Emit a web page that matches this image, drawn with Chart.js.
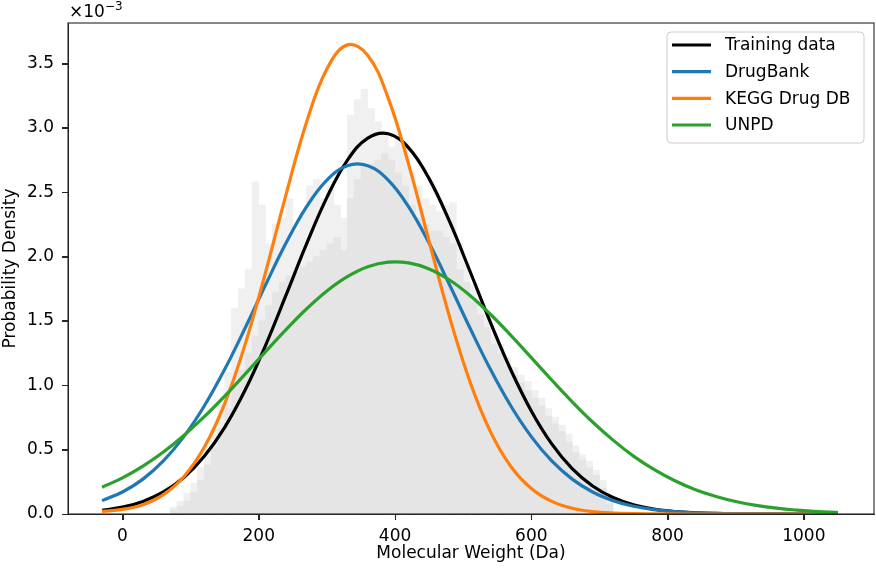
<!DOCTYPE html>
<html>
<head>
<meta charset="utf-8">
<script src="https://cdn.jsdelivr.net/npm/chart.js@4"></script>
<style>
  html, body { margin: 0; padding: 0; background: #ffffff; }
  #wrap { width: 876px; height: 570px; }
</style>
</head>
<body>
<div id="wrap"><canvas id="c" width="876" height="570"></canvas></div>
<script>
// ---- Data (density values in units of 1e-3) ----
const curveX = [-30, 0, 30, 60, 90, 120, 150, 180, 210, 240, 270, 300, 330, 360, 390, 420, 450, 480, 510, 540, 570, 600, 630, 660, 690, 720, 750, 780, 810, 840, 870, 900, 930, 960, 990, 1020, 1050];

const trainingData = [0.028, 0.053, 0.098, 0.171, 0.283, 0.448, 0.673, 0.963, 1.311, 1.700, 2.096, 2.460, 2.748, 2.921, 2.955, 2.845, 2.606, 2.273, 1.886, 1.489, 1.119, 0.801, 0.545, 0.353, 0.218, 0.128, 0.071, 0.038, 0.019, 0.0092, 0.0042, 0.0018, 0.0008, 0.0003, 0.0001, 0.0, 0.0];
const drugBank = [0.104, 0.171, 0.271, 0.412, 0.601, 0.839, 1.124, 1.445, 1.781, 2.105, 2.387, 2.595, 2.706, 2.706, 2.595, 2.387, 2.105, 1.781, 1.445, 1.124, 0.839, 0.601, 0.412, 0.271, 0.171, 0.104, 0.060, 0.034, 0.018, 0.0092, 0.0045, 0.0021, 0.0010, 0.0004, 0.0002, 0.0001, 0.0];
const keggDrug = [0.020, 0.036, 0.072, 0.151, 0.290, 0.518, 0.858, 1.318, 1.878, 2.482, 3.042, 3.457, 3.645, 3.563, 3.231, 2.717, 2.119, 1.532, 1.028, 0.640, 0.369, 0.198, 0.098, 0.045, 0.019, 0.0076, 0.0028, 0.0010, 0.0003, 0.0001, 0.0, 0.0, 0.0, 0.0, 0.0, 0.0, 0.0];
const unpd = [0.208, 0.281, 0.372, 0.481, 0.610, 0.756, 0.916, 1.087, 1.262, 1.433, 1.593, 1.733, 1.844, 1.921, 1.957, 1.951, 1.904, 1.818, 1.698, 1.552, 1.388, 1.215, 1.041, 0.872, 0.715, 0.574, 0.450, 0.346, 0.260, 0.191, 0.138, 0.097, 0.067, 0.045, 0.030, 0.019, 0.012];

// Background histogram of the training data (bin centres, Da)
const histCenters = [75, 85, 95, 105, 115, 125, 135, 145, 155, 165, 175, 185, 195, 205, 215, 225, 235, 245, 255, 265, 275, 285, 295, 305, 315, 325, 335, 345, 355, 365, 375, 385, 395, 405, 415, 425, 435, 445, 455, 465, 475, 485, 495, 505, 515, 525, 535, 545, 555, 565, 575, 585, 595, 605, 615, 625, 635, 645, 655, 665, 675, 685, 695, 705, 715];
const histBody = [0.03, 0.06, 0.10, 0.17, 0.26, 0.38, 0.52, 0.66, 0.82, 0.98, 1.12, 1.25, 1.38, 1.50, 1.62, 1.72, 1.80, 1.85, 1.88, 1.92, 1.96, 2.00, 2.05, 2.10, 2.15, 2.05, 2.45, 2.60, 2.70, 2.72, 2.75, 2.80, 2.75, 2.65, 2.55, 2.40, 2.30, 2.25, 2.20, 2.20, 2.15, 2.10, 1.90, 1.80, 1.65, 1.55, 1.45, 1.32, 1.25, 1.15, 1.08, 1.02, 0.96, 0.90, 0.84, 0.76, 0.70, 0.64, 0.56, 0.48, 0.42, 0.36, 0.30, 0.20, 0.08];
const histSpikes = [0.05, 0.10, 0.16, 0.24, 0.36, 0.50, 0.66, 0.85, 1.10, 1.60, 1.75, 1.90, 2.58, 2.40, 2.10, 2.25, 2.30, 2.45, 2.20, 2.35, 2.55, 2.60, 2.45, 2.55, 2.40, 2.30, 3.10, 3.22, 3.30, 3.15, 3.05, 2.95, 2.85, 2.95, 2.90, 2.65, 2.55, 2.45, 2.40, 2.35, 2.40, 2.42, 2.10, 1.95, 1.78, 1.66, 1.55, 1.40, 1.32, 1.22, 1.14, 1.08, 1.03, 0.96, 0.90, 0.82, 0.75, 0.69, 0.62, 0.53, 0.46, 0.41, 0.34, 0.26, 0.14];

const xTickValues = [0, 200, 400, 600, 800, 1000];
const yTickValues = [0.0, 0.5, 1.0, 1.5, 2.0, 2.5, 3.0, 3.5];

const seriesLabels = ['Training data', 'DrugBank', 'KEGG Drug DB', 'UNPD'];
const seriesColors = ['#000000', '#1f77b4', '#ff7f0e', '#2ca02c'];
const seriesValues = [trainingData, drugBank, keggDrug, unpd];

const xTitle = 'Molecular Weight (Da)';
const yTitle = 'Probability Density';

// ---- Build datasets ----
const toXY = (xs, ys) => xs.map((x, i) => ({x: x, y: ys[i]}));
const FONT = '"DejaVu Sans", "Liberation Sans", sans-serif';

const lineDatasets = seriesLabels.map((lab, i) => ({
  type: 'line',
  label: lab,
  data: toXY(curveX, seriesValues[i]),
  borderColor: seriesColors[i],
  backgroundColor: seriesColors[i],
  borderWidth: 3.2,
  pointRadius: 0,
  fill: false,
  tension: 0.4,
  order: 3 - i
}));

const histDatasets = [
  {
    type: 'bar', label: 'hist-body', data: toXY(histCenters, histBody),
    backgroundColor: '#e5e5e5', borderWidth: 0, grouped: false,
    barPercentage: 1.0, categoryPercentage: 1.0, order: 10
  },
  {
    type: 'bar', label: 'hist-spikes', data: toXY(histCenters, histSpikes),
    backgroundColor: '#f0f0f0', borderWidth: 0, grouped: false,
    barPercentage: 1.0, categoryPercentage: 1.0, order: 11
  }
];

const framePlugin = {
  id: 'frameAndLegend',
  afterDatasetsDraw(chart) {
    const ctx = chart.ctx, a = chart.chartArea;
    const xs = chart.scales.x, ys = chart.scales.y;
    ctx.save();
    // full box (spines)
    ctx.strokeStyle = '#262626';
    ctx.lineWidth = 1.1;
    ctx.strokeRect(a.left, a.top, a.right - a.left, a.bottom - a.top);
    // outward tick marks
    ctx.lineWidth = 1.1;
    ctx.beginPath();
    xTickValues.forEach(v => {
      const px = Math.round(xs.getPixelForValue(v)) + 0.5;
      ctx.moveTo(px, a.bottom);
      ctx.lineTo(px, a.bottom + 6);
    });
    yTickValues.forEach(v => {
      const py = Math.round(ys.getPixelForValue(v)) + 0.5;
      ctx.moveTo(a.left, py);
      ctx.lineTo(a.left - 6, py);
    });
    ctx.stroke();
    // scale offset text
    ctx.fillStyle = '#000000';
    ctx.textBaseline = 'alphabetic';
    ctx.textAlign = 'left';
    ctx.font = '17px ' + FONT;
    ctx.fillText('\u00d710', a.left + 1, a.top - 6);
    const w = ctx.measureText('\u00d710').width;
    ctx.font = '12px ' + FONT;
    ctx.fillText('\u22123', a.left + 1 + w, a.top - 13);
    // legend
    const bx = 667, by = 32, bw = 197, bh = 111, r = 4;
    ctx.beginPath();
    ctx.moveTo(bx + r, by);
    ctx.lineTo(bx + bw - r, by);
    ctx.arcTo(bx + bw, by, bx + bw, by + r, r);
    ctx.lineTo(bx + bw, by + bh - r);
    ctx.arcTo(bx + bw, by + bh, bx + bw - r, by + bh, r);
    ctx.lineTo(bx + r, by + bh);
    ctx.arcTo(bx, by + bh, bx, by + bh - r, r);
    ctx.lineTo(bx, by + r);
    ctx.arcTo(bx, by, bx + r, by, r);
    ctx.closePath();
    ctx.fillStyle = 'rgba(255,255,255,0.8)';
    ctx.fill();
    ctx.strokeStyle = '#cccccc';
    ctx.lineWidth = 1;
    ctx.stroke();
    ctx.font = '17px ' + FONT;
    ctx.textBaseline = 'middle';
    const rowY = [45, 71.7, 98.3, 125];
    seriesLabels.forEach((lab, i) => {
      ctx.strokeStyle = seriesColors[i];
      ctx.lineWidth = 3.2;
      ctx.beginPath();
      ctx.moveTo(672, rowY[i]);
      ctx.lineTo(711, rowY[i]);
      ctx.stroke();
      ctx.fillStyle = '#000000';
      ctx.fillText(lab, 725, rowY[i] + 1);
    });
    ctx.restore();
  }
};

new Chart(document.getElementById('c'), {
  type: 'line',
  data: { datasets: [...lineDatasets, ...histDatasets] },
  options: {
    responsive: false,
    animation: false,
    layout: { padding: { top: 23, right: 2, left: 0, bottom: 0 } },
    plugins: { legend: { display: false }, tooltip: { enabled: false } },
    scales: {
      x: {
        type: 'linear',
        min: -80, max: 1103,
        offset: false,
        afterBuildTicks: (s) => { s.ticks = xTickValues.map(v => ({value: v})); },
        afterFit: (s) => { s.height = 56; },
        border: { display: true, color: '#262626', width: 1 },
        grid: { display: true, offset: false, drawOnChartArea: false, drawTicks: true, tickLength: 6, color: '#262626' },
        ticks: { color: '#000000', font: { family: FONT, size: 17 }, padding: 6, maxRotation: 0, autoSkip: false,
                 callback: (v) => String(v) },
        title: { display: true, text: xTitle, color: '#000000', font: { family: FONT, size: 17 }, padding: { top: 0, bottom: 6 } }
      },
      y: {
        type: 'linear',
        min: 0, max: 3.815,
        afterBuildTicks: (s) => { s.ticks = yTickValues.map(v => ({value: v})); },
        afterFit: (s) => { s.width = 68; },
        border: { display: true, color: '#262626', width: 1 },
        grid: { display: true, offset: false, drawOnChartArea: false, drawTicks: true, tickLength: 6, color: '#262626' },
        ticks: { color: '#000000', font: { family: FONT, size: 17 }, padding: 8, autoSkip: false,
                 callback: (v) => Number(v).toFixed(1) },
        title: { display: true, text: yTitle, color: '#000000', font: { family: FONT, size: 17 }, padding: { top: 0, bottom: 4 } }
      }
    }
  },
  plugins: [framePlugin]
});
</script>
</body>
</html>
